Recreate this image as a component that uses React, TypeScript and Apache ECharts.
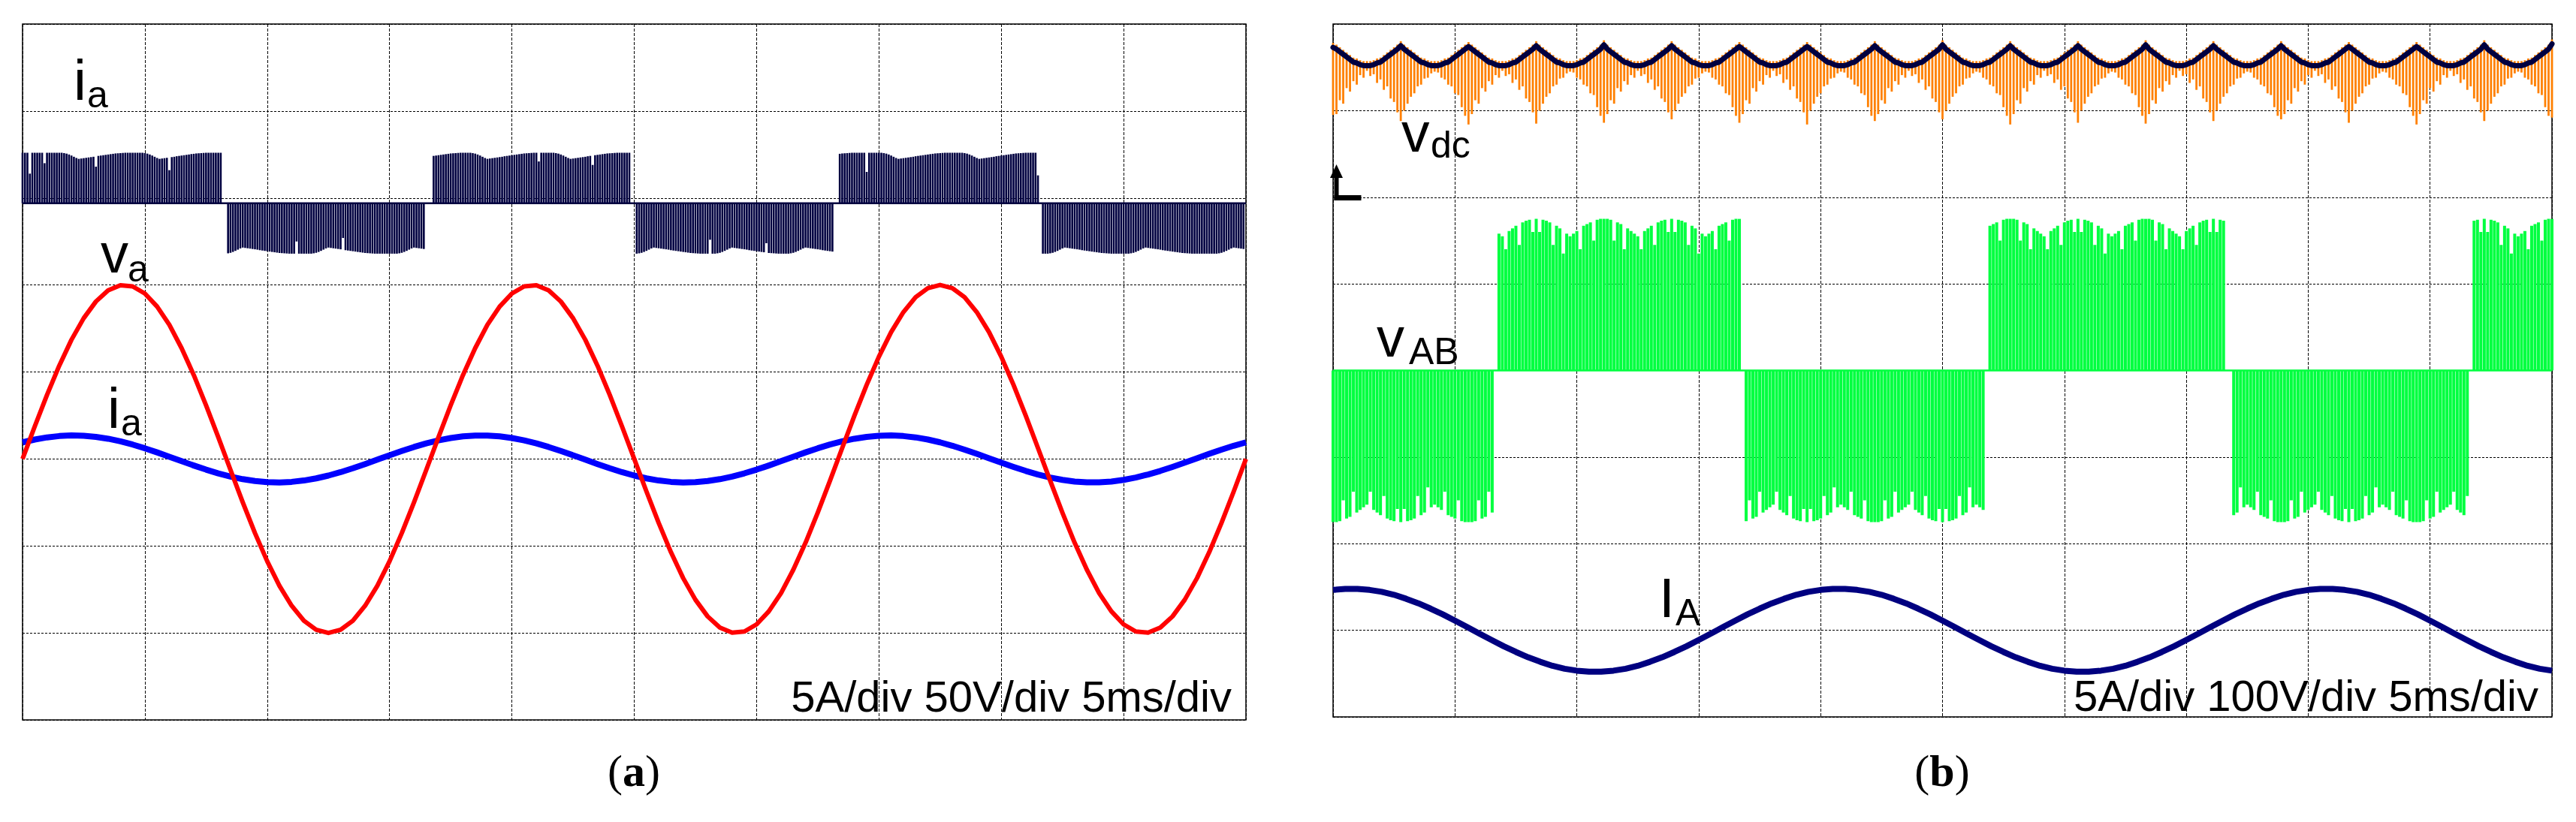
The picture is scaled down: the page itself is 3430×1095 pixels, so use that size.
import React, { useEffect, useRef } from "react";
import * as echarts from "echarts";

// ===================== Panel (a): 5 A/div, 50 V/div, 5 ms/div =====================
// PWM-like current i_a (top trace), sampled every 0.1 ms inside each block (A)
const A_PWM_DT = 0.1; // ms between pulses
const iaPwmStarts = [0.0, 8.4, 16.8, 25.1, 33.4, 41.7]; // ms
const iaPwmP1 = [
  2.9, 2.9, 2.9, 1.7, 2.9, 2.9, 2.9, 2.9, 2.9, 2.3, 2.9, 2.9, 2.9, 2.9, 2.9, 2.9, 2.9,
  2.88, 2.85, 2.8, 2.74, 2.67, 2.6, 2.55,
  2.57, 2.59, 2.61, 2.63, 2.65, 2.67, 2.1, 2.72, 2.74, 2.76, 2.78, 2.8, 2.82, 2.84, 2.86, 2.87, 2.88, 2.89,
  2.9, 2.9, 2.9, 2.9, 2.9, 2.9, 2.9, 2.9,
  2.88, 2.85, 2.8, 2.74, 2.67, 2.6, 2.55,
  2.57, 2.59, 2.61, 1.9, 2.65, 2.67, 2.7, 2.72, 2.74, 2.76, 2.78, 2.8, 2.82, 2.84, 2.86, 2.87, 2.88, 2.89,
  2.9, 2.9, 2.9, 2.9, 2.9, 2.9, 2.9,
];
const iaPwmN1 = [
  -2.88, -2.85, -2.8, -2.74, -2.67, -2.6, -2.55,
  -2.57, -2.59, -2.61, -2.63, -2.65, -2.67, -2.7, -2.72, -2.74, -2.76, -2.78, -2.8, -2.82, -2.84, -2.86, -2.87, -2.88, -2.89,
  -2.9, -2.9, -2.9, -2.2, -2.9, -2.9, -2.9, -2.9, -2.9, -2.9,
  -2.88, -2.85, -2.8, -2.74, -2.67, -2.6, -2.55,
  -2.57, -2.59, -2.61, -2.63, -2.65, -2.0, -2.7, -2.72, -2.74, -2.76, -2.78, -2.8, -2.82, -2.84, -2.86, -2.87, -2.88, -2.89,
  -2.9, -2.9, -2.9, -2.9, -2.9, -2.9, -2.9, -2.9, -2.9, -2.9,
  -2.88, -2.85, -2.8, -2.74, -2.67, -2.6, -2.55,
  -2.57, -2.59, -2.61, -2.63,
];
const iaPwmP2 = [
  2.72, 2.74, 2.76, 2.78, 2.8, 2.82, 2.84, 2.86, 2.87, 2.88, 2.89,
  2.9, 2.9, 2.9, 2.9, 2.9,
  2.88, 2.85, 2.8, 2.74, 2.67, 2.6, 2.55,
  2.57, 2.59, 2.61, 2.63, 2.65, 2.67, 2.7, 2.72, 2.74, 2.76, 2.78, 2.8, 2.82, 2.84, 2.86, 2.87, 2.88, 2.89,
  2.9, 2.9, 2.4, 2.9, 2.9, 2.9, 2.9, 2.9, 2.9,
  2.88, 2.85, 2.8, 2.74, 2.67, 2.6, 2.55,
  2.57, 2.59, 2.61, 2.63, 2.65, 2.67, 2.7, 2.72, 2.2, 2.76, 2.78, 2.8, 2.82, 2.84, 2.86, 2.87, 2.88, 2.89,
  2.9, 2.9, 2.9, 2.9, 2.9, 2.9,
];
const iaPwmN2 = [
  -2.9,
  -2.88, -2.85, -2.8, -2.74, -2.67, -2.6, -2.55,
  -2.57, -2.59, -2.61, -2.63, -2.65, -2.67, -2.7, -2.72, -2.74, -2.76, -2.78, -2.8, -2.82, -2.84, -2.86, -2.87, -2.88, -2.89,
  -2.9, -2.9, -2.9, -2.9, -2.1, -2.9, -2.9,
  -2.88, -2.85, -2.8, -2.74, -2.67, -2.6, -2.55,
  -2.57, -2.59, -2.61, -2.63, -2.65, -2.67, -2.7, -2.72, -2.74, -2.76, -2.78, -2.8, -2.82, -2.3, -2.86, -2.87, -2.88, -2.89,
  -2.9, -2.9, -2.9, -2.9, -2.9,
  -2.88, -2.85, -2.8, -2.74, -2.67, -2.6, -2.55,
  -2.57, -2.59, -2.61, -2.63, -2.65, -2.67, -2.7, -2.72, -2.74, -2.76, -2.78,
];
const iaPwmP3 = [
  2.84, 2.86, 2.87, 2.88, 2.89,
  2.9, 2.9, 2.9, 2.9, 2.9, 2.9, 1.8, 2.9, 2.9, 2.9, 2.9, 2.9, 2.9,
  2.88, 2.85, 2.8, 2.74, 2.67, 2.6, 2.55,
  2.57, 2.59, 2.61, 2.63, 2.65, 2.67, 2.7, 2.72, 2.74, 2.76, 2.78, 2.8, 2.82, 2.84, 2.86, 2.87, 2.88, 2.89,
  2.9, 2.9, 2.9, 2.9, 2.9, 2.9, 2.9, 2.9,
  2.88, 2.85, 2.8, 2.74, 2.67, 2.6, 2.55,
  2.57, 2.59, 2.61, 2.63, 2.65, 2.67, 2.7, 2.72, 2.74, 2.76, 2.78, 2.8, 2.82, 2.84, 2.86, 2.87, 2.88, 2.89,
  2.9, 2.9, 2.9, 2.9, 2.9, 1.6,
];
const iaPwmN3 = [
  -2.9, -2.9, -2.9,
  -2.88, -2.85, -2.8, -2.74, -2.67, -2.6, -2.55,
  -2.57, -2.59, -2.61, -2.63, -2.65, -2.67, -2.7, -2.72, -2.74, -2.76, -2.78, -2.8, -2.82, -2.84, -2.86, -2.87, -2.88, -2.89,
  -2.9, -2.9, -2.9, -2.9, -2.9, -2.9, -2.9, -2.9,
  -2.88, -2.85, -2.8, -2.74, -2.67, -2.6, -2.55,
  -2.57, -2.59, -2.61, -2.63, -2.65, -2.67, -2.7, -2.72, -2.74, -2.76, -2.78, -2.8, -2.82, -2.84, -2.86, -2.87, -2.88, -2.89,
  -2.9, -2.9, -2.9, -2.9, -2.9, -2.9, -2.9, -2.9, -2.9, -2.9, -2.9,
  -2.88, -2.85, -2.8, -2.74, -2.67, -2.6, -2.55,
  -2.57, -2.59, -2.61, -2.63,
];

// v_a (V) and i_a (A), one sample per 0.5 ms, 0..50 ms
const SINE_DT = 0.5;
const vaVolt = [
  0, 18.7, 36.8, 53.6, 68.5, 80.9, 90.5, 96.9, 99.8, 99.2, 95.1, 87.6, 77.1, 63.7, 48.2, 30.9, 12.5,
  -6.3, -24.9, -42.6, -58.8, -72.9, -84.4, -93.0, -98.2, -100, -98.2, -93.0, -84.4, -72.9, -58.8, -42.6, -24.9,
  -6.3, 12.5, 30.9, 48.2, 63.7, 77.1, 87.6, 95.1, 99.2, 99.8, 96.9, 90.5, 80.9, 68.5, 53.6, 36.8, 18.7,
  0, -18.7, -36.8, -53.6, -68.5, -80.9, -90.5, -96.9, -99.8, -99.2, -95.1, -87.6, -77.1, -63.7, -48.2, -30.9,
  -12.5, 6.3, 24.9, 42.6, 58.8, 72.9, 84.4, 93.0, 98.2, 100, 98.2, 93.0, 84.4, 72.9, 58.8, 42.6, 24.9, 6.3,
  -12.5, -30.9, -48.2, -63.7, -77.1, -87.6, -95.1, -99.2, -99.8, -96.9, -90.5, -80.9, -68.5, -53.6, -36.8, -18.7, 0,
];
const iaAmp = [
  0.955, 1.117, 1.239, 1.317, 1.349, 1.333, 1.27, 1.162, 1.013, 0.827, 0.613, 0.377, 0.127, -0.127, -0.377,
  -0.613, -0.828, -1.013, -1.162, -1.27, -1.333, -1.349, -1.317, -1.239, -1.117, -0.955, -0.759, -0.536, -0.294,
  -0.042, 0.211, 0.457, 0.687, 0.893, 1.067, 1.203, 1.296, 1.344, 1.344, 1.296, 1.203, 1.067, 0.893, 0.687, 0.457,
  0.211, -0.042, -0.294, -0.536, -0.759, -0.955, -1.117, -1.239, -1.317, -1.349, -1.333, -1.27, -1.162, -1.013,
  -0.827, -0.613, -0.377, -0.127, 0.127, 0.377, 0.613, 0.828, 1.013, 1.162, 1.27, 1.333, 1.349, 1.317, 1.239,
  1.117, 0.955, 0.759, 0.536, 0.294, 0.042, -0.211, -0.457, -0.687, -0.893, -1.067, -1.203, -1.296, -1.344,
  -1.344, -1.296, -1.203, -1.067, -0.893, -0.687, -0.457, -0.211, 0.042, 0.294, 0.536, 0.759, 0.955,
];

// ===================== Panel (b): 5 A/div, 100 V/div, 5 ms/div =====================
const B_DT = 50 / 360; // ms between samples (20 per 360 Hz ripple period)
const vdcVolt = [
  173, 171, 168, 165, 162, 159, 156, 155, 153, 152, 152, 152, 153, 155, 156, 159, 162, 165, 168, 171,
  175, 171, 168, 165, 162, 159, 156, 155, 153, 152, 152, 152, 153, 155, 156, 159, 162, 165, 168, 171,
  174, 171, 168, 165, 162, 159, 156, 155, 153, 152, 152, 152, 153, 155, 156, 159, 162, 165, 168, 171,
  175, 171, 168, 165, 162, 159, 156, 155, 153, 152, 152, 152, 153, 155, 156, 159, 162, 165, 168, 171,
  176, 171, 168, 165, 162, 159, 156, 155, 153, 152, 152, 152, 153, 155, 156, 159, 162, 165, 168, 171,
  175, 171, 168, 165, 162, 159, 156, 155, 153, 152, 152, 152, 153, 155, 156, 159, 162, 165, 168, 171,
  174, 171, 168, 165, 162, 159, 156, 155, 153, 152, 152, 152, 153, 155, 156, 159, 162, 165, 168, 171,
  174, 171, 168, 165, 162, 159, 156, 155, 153, 152, 152, 152, 153, 155, 156, 159, 162, 165, 168, 171,
  175, 171, 168, 165, 162, 159, 156, 155, 153, 152, 152, 152, 153, 155, 156, 159, 162, 165, 168, 171,
  176, 171, 168, 165, 162, 159, 156, 155, 153, 152, 152, 152, 153, 155, 156, 159, 162, 165, 168, 171,
  175, 171, 168, 165, 162, 159, 156, 155, 153, 152, 152, 152, 153, 155, 156, 159, 162, 165, 168, 171,
  175, 171, 168, 165, 162, 159, 156, 155, 153, 152, 152, 152, 153, 155, 156, 159, 162, 165, 168, 171,
  176, 171, 168, 165, 162, 159, 156, 155, 153, 152, 152, 152, 153, 155, 156, 159, 162, 165, 168, 171,
  175, 171, 168, 165, 162, 159, 156, 155, 153, 152, 152, 152, 153, 155, 156, 159, 162, 165, 168, 171,
  175, 171, 168, 165, 162, 159, 156, 155, 153, 152, 152, 152, 153, 155, 156, 159, 162, 165, 168, 171,
  174, 171, 168, 165, 162, 159, 156, 155, 153, 152, 152, 152, 153, 155, 156, 159, 162, 165, 168, 171,
  174, 171, 168, 165, 162, 159, 156, 155, 153, 152, 152, 152, 153, 155, 156, 159, 162, 165, 168, 171,
  176, 171, 168, 165, 162, 159, 156, 155, 153, 152, 152, 152, 153, 155, 156, 159, 162, 165, 168, 171,
  177,
];
// lower tips of the switching spikes on v_dc (V)
const vdcSpikeLow = [
  95, 96, 112, 108, 126, 122, 134, 130, 141, 138, 146, 140, 142, 132, 136, 124, 128, 114, 110, 98,
  88, 100, 108, 116, 120, 128, 130, 137, 138, 143, 145, 144, 138, 136, 130, 128, 120, 118, 104, 94,
  84, 96, 112, 108, 126, 122, 134, 130, 141, 138, 146, 140, 142, 132, 136, 124, 128, 114, 110, 98,
  85, 100, 108, 116, 120, 128, 130, 137, 138, 143, 145, 144, 138, 136, 130, 128, 120, 118, 104, 94,
  86, 96, 112, 108, 126, 122, 134, 130, 141, 138, 146, 140, 142, 132, 136, 124, 128, 114, 110, 98,
  90, 100, 108, 116, 120, 128, 130, 137, 138, 143, 145, 144, 138, 136, 130, 128, 120, 118, 104, 94,
  86, 96, 112, 108, 126, 122, 134, 130, 141, 138, 146, 140, 142, 132, 136, 124, 128, 114, 110, 98,
  84, 100, 108, 116, 120, 128, 130, 137, 138, 143, 145, 144, 138, 136, 130, 128, 120, 118, 104, 94,
  88, 96, 112, 108, 126, 122, 134, 130, 141, 138, 146, 140, 142, 132, 136, 124, 128, 114, 110, 98,
  90, 100, 108, 116, 120, 128, 130, 137, 138, 143, 145, 144, 138, 136, 130, 128, 120, 118, 104, 94,
  84, 96, 112, 108, 126, 122, 134, 130, 141, 138, 146, 140, 142, 132, 136, 124, 128, 114, 110, 98,
  86, 100, 108, 116, 120, 128, 130, 137, 138, 143, 145, 144, 138, 136, 130, 128, 120, 118, 104, 94,
  85, 96, 112, 108, 126, 122, 134, 130, 141, 138, 146, 140, 142, 132, 136, 124, 128, 114, 110, 98,
  88, 100, 108, 116, 120, 128, 130, 137, 138, 143, 145, 144, 138, 136, 130, 128, 120, 118, 104, 94,
  90, 96, 112, 108, 126, 122, 134, 130, 141, 138, 146, 140, 142, 132, 136, 124, 128, 114, 110, 98,
  86, 100, 108, 116, 120, 128, 130, 137, 138, 143, 145, 144, 138, 136, 130, 128, 120, 118, 104, 94,
  84, 96, 112, 108, 126, 122, 134, 130, 141, 138, 146, 140, 142, 132, 136, 124, 128, 114, 110, 98,
  88, 100, 108, 116, 120, 128, 130, 137, 138, 143, 145, 144, 138, 136, 130, 128, 120, 118, 104, 94,
  92,
];
// line-to-line PWM voltage v_AB (V), 0 = no pulse
const vabVolt = [
  -175, -175, -174, -150, -171, -169, -140, -164, -161, -158, -155, -140, -161, -164, -167, -145, -171, -173, -174, -160,
  -175, -160, -174, -173, -171, -145, -167, -164, -135, -158, -155, -158, -161, -140, -167, -169, -171, -150, -174, -175,
  -175, -175, -174, -150, -171, -169, -140, -164, 0, 158, 155, 140, 161, 164, 167, 145, 171, 173, 174, 160,
  175, 160, 174, 173, 171, 145, 167, 164, 135, 158, 155, 158, 161, 140, 167, 169, 171, 150, 174, 175,
  175, 175, 174, 150, 171, 169, 140, 164, 161, 158, 155, 140, 161, 164, 167, 145, 171, 173, 174, 160,
  175, 160, 174, 173, 171, 145, 167, 164, 135, 158, 155, 158, 161, 140, 167, 169, 171, 150, 174, 175,
  175, 0, -174, -150, -171, -169, -140, -164, -161, -158, -155, -140, -161, -164, -167, -145, -171, -173, -174, -160,
  -175, -160, -174, -173, -171, -145, -167, -164, -135, -158, -155, -158, -161, -140, -167, -169, -171, -150, -174, -175,
  -175, -175, -174, -150, -171, -169, -140, -164, -161, -158, -155, -140, -161, -164, -167, -145, -171, -173, -174, -160,
  -175, -160, -174, -173, -171, -145, -167, -164, -135, -158, -155, -158, -161, 0, 167, 169, 171, 150, 174, 175,
  175, 175, 174, 150, 171, 169, 140, 164, 161, 158, 155, 140, 161, 164, 167, 145, 171, 173, 174, 160,
  175, 160, 174, 173, 171, 145, 167, 164, 135, 158, 155, 158, 161, 140, 167, 169, 171, 150, 174, 175,
  175, 175, 174, 150, 171, 169, 140, 164, 161, 158, 155, 140, 161, 164, 167, 145, 171, 173, 174, 160,
  175, 160, 174, 173, 0, 0, -167, -164, -135, -158, -155, -158, -161, -140, -167, -169, -171, -150, -174, -175,
  -175, -175, -174, -150, -171, -169, -140, -164, -161, -158, -155, -140, -161, -164, -167, -145, -171, -173, -174, -160,
  -175, -160, -174, -173, -171, -145, -167, -164, -135, -158, -155, -158, -161, -140, -167, -169, -171, -150, -174, -175,
  -175, -175, -174, -150, -171, -169, -140, -164, -161, -158, -155, -140, -161, -164, -167, -145, 0, 173, 174, 160,
  175, 160, 174, 173, 171, 145, 167, 164, 135, 158, 155, 158, 161, 140, 167, 169, 171, 150, 174, 175,
  175,
];
// I_A (A), one sample per 0.5 ms, 0..50 ms
const IAamp = [
  2.33, 2.39, 2.39, 2.33, 2.22, 2.05, 1.82, 1.56, 1.25, 0.92, 0.56, 0.19, -0.19, -0.56, -0.92, -1.25, -1.56,
  -1.82, -2.05, -2.22, -2.33, -2.39, -2.39, -2.33, -2.22, -2.05, -1.82, -1.56, -1.25, -0.92, -0.56, -0.19,
  0.19, 0.56, 0.92, 1.25, 1.56, 1.82, 2.05, 2.22,
  2.33, 2.39, 2.39, 2.33, 2.22, 2.05, 1.82, 1.56, 1.25, 0.92, 0.56, 0.19, -0.19, -0.56, -0.92, -1.25, -1.56,
  -1.82, -2.05, -2.22, -2.33, -2.39, -2.39, -2.33, -2.22, -2.05, -1.82, -1.56, -1.25, -0.92, -0.56, -0.19,
  0.19, 0.56, 0.92, 1.25, 1.56, 1.82, 2.05, 2.22,
  2.33, 2.39, 2.39, 2.33, 2.22, 2.05, 1.82, 1.56, 1.25, 0.92, 0.56, 0.19, -0.19, -0.56, -0.92, -1.25, -1.56,
  -1.82, -2.05, -2.22, -2.33,
];

// ===================== styling =====================
const NAVY = "#000040";
const NAVY2 = "#000080";
const RED = "#ff0000";
const BLUE = "#0000ff";
const ORANGE = "#ff8000";
const GREEN = "#00ff40";
const SANS = "Liberation Sans";
const SERIF = "Liberation Serif";

// trace axes: zero row (from the top, in divisions) and units per division
const traceAxis = (grid: number, zeroRow: number, perDiv: number) => ({
  gridIndex: grid,
  type: "value",
  show: false,
  min: -(8 - zeroRow) * perDiv,
  max: zeroRow * perDiv,
});

const pulse = (color: string, width: number, extendTop: number) => (params: any, api: any) => {
  const t = api.value(0);
  const a = api.value(1);
  const b = api.value(2);
  const p0 = api.coord([t, a]);
  const p1 = api.coord([t, b]);
  const top = Math.min(p0[1], p1[1]) - extendTop;
  const bottom = Math.max(p0[1], p1[1]);
  return {
    type: "rect",
    shape: { x: p0[0] - width / 2, y: top, width, height: Math.max(bottom - top, 0.5) },
    style: { fill: color },
  };
};

const txt = (text: string, x: number, y: number, size: number, align = "left", family = SANS) => ({
  type: "text",
  x,
  y,
  z: 100,
  style: {
    text,
    fontSize: size,
    fontFamily: family,
    fill: "#000",
    textAlign: align,
    textVerticalAlign: "middle",
  },
});

const panelLabel = (letter: string, x: number, y: number) => ({
  type: "text",
  x,
  y,
  z: 100,
  style: {
    text: `{n|(}{b|${letter}}{n|)}`,
    fill: "#000",
    textAlign: "center",
    textVerticalAlign: "middle",
    rich: {
      n: { fontFamily: SERIF, fontSize: 60, fill: "#000" },
      b: { fontFamily: SERIF, fontSize: 60, fontWeight: "bold", fill: "#000" },
    },
  },
});

function buildOption() {
  const iaBlocks = [iaPwmP1, iaPwmN1, iaPwmP2, iaPwmN2, iaPwmP3, iaPwmN3];
  const iaPwmData: number[][] = [];
  iaBlocks.forEach((blk, b) =>
    blk.forEach((v, k) => iaPwmData.push([iaPwmStarts[b] + k * A_PWM_DT, 0, v]))
  );
  const vaData = vaVolt.map((v, i) => [i * SINE_DT, v]);
  const iaData = iaAmp.map((v, i) => [i * SINE_DT, v]);
  const vdcData = vdcVolt.map((v, j) => [j * B_DT, v]);
  const spikeData = vdcVolt.map((v, j) => [j * B_DT, vdcSpikeLow[j], v]);
  const vabData = vabVolt
    .map((v, j) => [j * B_DT, 0, v])
    .filter((d) => d[2] !== 0);
  const IAData = IAamp.map((v, i) => [i * SINE_DT, v]);

  const xAx = (g: number) => ({
    gridIndex: g,
    type: "value",
    min: 0,
    max: 50,
    interval: 5,
    axisLine: { show: false },
    axisTick: { show: false },
    axisLabel: { show: false },
    splitLine: { show: true, lineStyle: { color: "#000", width: 1, type: [4, 2] } },
  });
  const yGridAx = (g: number) => ({
    gridIndex: g,
    type: "value",
    min: 0,
    max: 8,
    interval: 1,
    axisLine: { show: false },
    axisTick: { show: false },
    axisLabel: { show: false },
    splitLine: { show: true, lineStyle: { color: "#000", width: 1, type: [3, 2] } },
  });

  return {
    animation: false,
    backgroundColor: "#ffffff",
    grid: [
      { left: 30, top: 32, width: 1629, height: 927, show: true, borderColor: "#000", borderWidth: 1.5 },
      { left: 1775, top: 32, width: 1623, height: 923, show: true, borderColor: "#000", borderWidth: 1.5 },
    ],
    xAxis: [xAx(0), xAx(1)],
    yAxis: [
      yGridAx(0), // 0
      traceAxis(0, 2.06, 5), // 1 PWM i_a (A)
      traceAxis(0, 5.0, 50), // 2 v_a (V)
      traceAxis(0, 5.0, 5), // 3 i_a (A)
      yGridAx(1), // 4
      traceAxis(1, 2.0, 100), // 5 v_dc (V)
      traceAxis(1, 4.0, 100), // 6 v_AB (V)
      traceAxis(1, 7.0, 5), // 7 I_A (A)
    ],
    series: [
      // ---- panel (a)
      {
        type: "line",
        xAxisIndex: 0,
        yAxisIndex: 1,
        data: [[0, 0], [50, 0]],
        symbol: "none",
        silent: true,
        lineStyle: { color: NAVY, width: 2.5 },
        z: 2,
      },
      {
        type: "custom",
        coordinateSystem: "cartesian2d",
        xAxisIndex: 0,
        yAxisIndex: 1,
        data: iaPwmData,
        encode: { x: 0, y: [1, 2] },
        renderItem: pulse(NAVY, 2.6, 0),
        silent: true,
        progressive: 0,
        z: 2,
      },
      {
        type: "line",
        xAxisIndex: 0,
        yAxisIndex: 3,
        data: iaData,
        symbol: "none",
        silent: true,
        lineStyle: { color: BLUE, width: 8, join: "round" },
        z: 3,
      },
      {
        type: "line",
        xAxisIndex: 0,
        yAxisIndex: 2,
        data: vaData,
        symbol: "none",
        silent: true,
        lineStyle: { color: RED, width: 6, join: "round" },
        z: 4,
      },
      // ---- panel (b)
      {
        type: "custom",
        coordinateSystem: "cartesian2d",
        xAxisIndex: 1,
        yAxisIndex: 5,
        data: spikeData,
        encode: { x: 0, y: [1, 2] },
        renderItem: pulse(ORANGE, 2.8, 6),
        silent: true,
        progressive: 0,
        z: 2,
      },
      {
        type: "line",
        xAxisIndex: 1,
        yAxisIndex: 5,
        data: vdcData,
        symbol: "none",
        silent: true,
        lineStyle: { color: NAVY, width: 7, join: "round", cap: "round" },
        z: 3,
      },
      {
        type: "line",
        xAxisIndex: 1,
        yAxisIndex: 6,
        data: [[0, 0], [50, 0]],
        symbol: "none",
        silent: true,
        lineStyle: { color: GREEN, width: 2.5 },
        z: 2,
      },
      {
        type: "custom",
        coordinateSystem: "cartesian2d",
        xAxisIndex: 1,
        yAxisIndex: 6,
        data: vabData,
        encode: { x: 0, y: [1, 2] },
        renderItem: pulse(GREEN, 4, 0),
        silent: true,
        progressive: 0,
        z: 2,
      },
      {
        type: "line",
        xAxisIndex: 1,
        yAxisIndex: 7,
        data: IAData,
        symbol: "none",
        silent: true,
        lineStyle: { color: NAVY2, width: 8, join: "round" },
        z: 3,
      },
    ],
    graphic: [
      // panel (a) trace labels
      txt("i", 98, 106, 76),
      txt("a", 116, 126, 50),
      txt("v", 134, 337, 74),
      txt("a", 170, 358, 50),
      txt("i", 143, 543, 76),
      txt("a", 161, 563, 50),
      txt("5A/div 50V/div 5ms/div", 1640, 927, 58, "right"),
      panelLabel("a", 844, 1027),
      // panel (b) trace labels
      txt("v", 1866, 176, 75),
      txt("dc", 1905, 193, 50),
      txt("v", 1833, 449, 74),
      txt("AB", 1876, 468, 50),
      txt("I", 2209, 796, 75),
      txt("A", 2231, 816, 50),
      txt("5A/div 100V/div 5ms/div", 3380, 926, 58, "right"),
      panelLabel("b", 2586, 1027),
      // ground reference marker of v_dc
      { type: "polygon", z: 100, shape: { points: [[1771, 237], [1788, 237], [1779.5, 219]] }, style: { fill: "#000" } },
      { type: "rect", z: 100, shape: { x: 1776.5, y: 234, width: 6, height: 33 }, style: { fill: "#000" } },
      { type: "rect", z: 100, shape: { x: 1776.5, y: 260, width: 36, height: 7 }, style: { fill: "#000" } },
    ],
  };
}

export default function App() {
  const ref = useRef<HTMLDivElement>(null);
  useEffect(() => {
    if (!ref.current) return;
    const chart = echarts.init(ref.current, undefined, { renderer: "svg" });
    chart.setOption(buildOption() as any);
    return () => chart.dispose();
  }, []);
  return (
    <div
      ref={ref}
      style={{ position: "absolute", left: 0, top: 0, width: 3430, height: 1095, background: "#fff" }}
    />
  );
}
